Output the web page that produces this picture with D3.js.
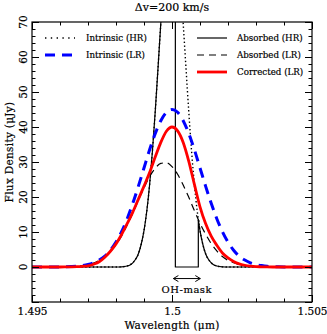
<!DOCTYPE html>
<meta charset="utf-8">
<head>
	<script src="https://cdn.jsdelivr.net/npm/d3@7"></script>
	<style>
		body { margin: 0; background: #fff; }
		text { font-family: "DejaVu Serif", serif; fill: #000; stroke: #000; stroke-width: 0.2px; }
	</style>
</head>
<body>
<div id="svg-container"></div>

<script>

const margin = {top: 22, right: 15, bottom: 32, left: 32},
	width = 327 - margin.left - margin.right,
	height = 334 - margin.top - margin.bottom

////////////////////////////////////
// DATA (wavelength in um, flux in uJy)
////////////////////////////////////

const title = '\u0394v=200 km/s'

// high resolution intrinsic line
const hrWave = [1.495, 1.4980, 1.4982, 1.4984, 1.4985, 1.4986, 1.4987, 1.4988, 1.4989, 1.4990,
	1.4991, 1.4992, 1.4993, 1.4994, 1.4995, 1.4996, 1.4997, 1.4998, 1.4999, 1.5000,
	1.5001, 1.5002, 1.5003, 1.5004, 1.5005, 1.5006, 1.5007, 1.5008, 1.5009, 1.5010,
	1.5011, 1.5012, 1.5013, 1.5014, 1.5015, 1.5016, 1.5018, 1.5020, 1.505]
const hrIntrinsic = [0, 0, 0.05, 0.3, 0.6, 1.2, 2.2, 3.8, 6.5, 10.4,
	16.0, 23.5, 33.0, 44.3, 56.8, 69.6, 81.6, 91.3, 97.8, 100,
	97.8, 91.3, 81.6, 69.6, 56.8, 44.3, 33.0, 23.5, 16.0, 10.4,
	6.5, 3.8, 2.2, 1.2, 0.6, 0.3, 0.05, 0, 0]

// high resolution line after the OH mask (repeated wavelength = vertical edge)
const hrAbsWave = [1.495, 1.4980, 1.4982, 1.4984, 1.4985, 1.4986, 1.4987, 1.4988, 1.4989, 1.4990,
	1.4991, 1.4992, 1.4993, 1.4994, 1.4995, 1.4996, 1.4997, 1.4998, 1.4999, 1.5000,
	1.5001, 1.50012, 1.50012, 1.50094, 1.50094, 1.5010,
	1.5011, 1.5012, 1.5013, 1.5014, 1.5015, 1.5016, 1.5018, 1.5020, 1.505]
const hrAbsorbed = [0, 0, 0.05, 0.3, 0.6, 1.2, 2.2, 3.8, 6.5, 10.4,
	16.0, 23.5, 33.0, 44.3, 56.8, 69.6, 81.6, 91.3, 97.8, 100,
	97.8, 96.8, 0, 0, 13.5, 10.4,
	6.5, 3.8, 2.2, 1.2, 0.6, 0.3, 0.05, 0, 0]

// low resolution curves
const lrWave = [1.495, 1.4960, 1.4962, 1.4964, 1.4966, 1.4968, 1.4970, 1.4972, 1.4974, 1.4976,
	1.4978, 1.4980, 1.4982, 1.4984, 1.4986, 1.4988, 1.4990, 1.4992, 1.4994, 1.4996,
	1.4998, 1.5000, 1.5002, 1.5004, 1.5006, 1.5008, 1.5010, 1.5012, 1.5014, 1.5016,
	1.5018, 1.5020, 1.5022, 1.5024, 1.5026, 1.5028, 1.5030, 1.5032, 1.5034, 1.5036,
	1.5038, 1.5040, 1.505]
const lrIntrinsic = [0, 0.03, 0.06, 0.11, 0.2, 0.4, 0.7, 1.2, 2.0, 3.1,
	4.8, 7.1, 10.1, 13.8, 18.2, 23.1, 28.3, 33.5, 38.1, 41.8,
	44.2, 45.0, 44.2, 41.8, 38.1, 33.5, 28.3, 23.1, 18.2, 13.8,
	10.1, 7.1, 4.8, 3.1, 2.0, 1.2, 0.7, 0.4, 0.2, 0.11,
	0.06, 0.03, 0]
const lrAbsorbed = [0, 0.03, 0.06, 0.11, 0.2, 0.4, 0.7, 1.1, 1.9, 2.9,
	4.4, 6.4, 8.9, 12.0, 15.4, 19.1, 22.6, 25.8, 28.2, 29.6,
	29.8, 28.7, 26.5, 23.4, 19.9, 16.1, 12.5, 9.4, 6.7, 4.6,
	3.0, 1.9, 1.2, 0.7, 0.4, 0.2, 0.13, 0.08, 0.04, 0.02,
	0.01, 0.01, 0]
const lrCorrected = [0, 0, 0.02, 0.05, 0.1, 0.2, 0.35, 0.8, 1.5, 2.8,
	4.5, 6.6, 9.3, 12.4, 15.7, 19.4, 23.1, 27.0, 31.4, 35.6,
	38.8, 40.0, 38.9, 35.6, 30.2, 23.6, 17.2, 12.4, 8.8, 6.2,
	4.0, 2.6, 1.6, 0.9, 0.5, 0.25, 0.1, 0.06, 0.02, 0,
	0, 0, 0]

// OH mask range
const maskRange = [1.50012, 1.50094]

const xDomain = [1.495, 1.505],
	yDomain = [-10, 70]
const xMajorTicks = [1.495, 1.5, 1.505],
	xTickLabels = ['1.495', '1.5', '1.505']
const yMajorTicks = [-10, 0, 10, 20, 30, 40, 50, 60, 70],
	yTickLabels = ['', '0', '10', '20', '30', '40', '50', '60', '70']

const series = [
	{name: 'Intrinsic (HR)', wave: hrWave, flux: hrIntrinsic, color: '#000', w: 1.4, dash: '1.4,2.4', col: 0, row: 0},
	{name: 'Intrinsic (LR)', wave: lrWave, flux: lrIntrinsic, color: '#0000ff', w: 3, dash: '10,7', col: 0, row: 1},
	{name: 'Absorbed (HR)', wave: hrAbsWave, flux: hrAbsorbed, color: '#000', w: 1.2, dash: null, col: 1, row: 0},
	{name: 'Absorbed (LR)', wave: lrWave, flux: lrAbsorbed, color: '#000', w: 1.2, dash: '7,5', col: 1, row: 1},
	{name: 'Corrected (LR)', wave: lrWave, flux: lrCorrected, color: '#ff0000', w: 2.8, dash: null, col: 1, row: 2}
]
// drawing order (bottom to top)
const drawOrder = ['Intrinsic (HR)', 'Absorbed (HR)', 'Absorbed (LR)', 'Intrinsic (LR)', 'Corrected (LR)']

////////////////////////////////////
// SETUP
////////////////////////////////////

const svg = d3.select('#svg-container').append('svg')
	.attr('width', 327)
	.attr('height', 334)

const g = svg.append('g')
	.attr('transform', `translate(${margin.left},${margin.top})`)

const xScale = d3.scaleLinear().domain(xDomain).range([0, width])
const yScale = d3.scaleLinear().domain(yDomain).range([height, 0])

svg.append('defs').append('clipPath')
	.attr('id', 'plotClip')
	.append('rect')
	.attr('width', width)
	.attr('height', height)

////////////////////////////////////
// CURVES
////////////////////////////////////

const line = d3.line()
	.x(d => xScale(d[0]))
	.y(d => yScale(d[1]))
	.curve(d3.curveMonotoneX)

// split where the wavelength repeats, join the pieces with straight edges
const pathFor = s => {
	const pts = s.wave.map((w, i) => [w, s.flux[i]])
	const runs = []
	let run = [pts[0]]
	for (let i = 1; i < pts.length; i++) {
		if (pts[i][0] === pts[i - 1][0]) { runs.push(run); run = [pts[i]] }
		else run.push(pts[i])
	}
	runs.push(run)
	return runs.map((r, i) => {
		const p = r.length > 1 ? line(r) : `M${xScale(r[0][0])},${yScale(r[0][1])}`
		return i === 0 ? p : 'L' + p.slice(1)
	}).join('')
}

const curves = g.append('g').attr('clip-path', 'url(#plotClip)')

drawOrder.forEach(name => {
	const s = series.find(d => d.name === name)
	curves.append('path')
		.attr('d', pathFor(s))
		.attr('fill', 'none')
		.attr('stroke', s.color)
		.attr('stroke-width', s.w)
		.attr('stroke-dasharray', s.dash)
		.attr('stroke-linejoin', 'round')
})

////////////////////////////////////
// AXES (ticks inside on all four sides)
////////////////////////////////////

const xMinor = d3.range(0, 11).map(i => xDomain[0] + i * 0.001)
const yMinor = d3.range(-10, 71, 2)

const addAxis = (axis, transform, cls) => {
	const a = g.append('g')
		.attr('class', cls)
		.attr('transform', transform)
		.call(axis)
	a.selectAll('.domain').remove()
	a.selectAll('line').attr('stroke', '#000').attr('stroke-width', 1)
	return a
}

// bottom
addAxis(d3.axisBottom(xScale).tickValues(xMinor).tickSize(-3.5).tickFormat(''), `translate(0,${height})`, 'x minor')
const xAxis = addAxis(d3.axisBottom(xScale).tickValues(xMajorTicks).tickSize(-7).tickPadding(6)
	.tickFormat((d, i) => xTickLabels[i]), `translate(0,${height})`, 'x major')
xAxis.selectAll('text')
	.attr('font-family', '"DejaVu Serif", serif')
	.attr('font-size', 10.5)
	.attr('fill', '#000')

// top
addAxis(d3.axisTop(xScale).tickValues(xMinor).tickSize(-3.5).tickFormat(''), 'translate(0,0)', 'x2 minor')
addAxis(d3.axisTop(xScale).tickValues(xMajorTicks).tickSize(-7).tickFormat(''), 'translate(0,0)', 'x2 major')

// left
addAxis(d3.axisLeft(yScale).tickValues(yMinor).tickSize(-3.5).tickFormat(''), 'translate(0,0)', 'y minor')
addAxis(d3.axisLeft(yScale).tickValues(yMajorTicks).tickSize(-7).tickFormat(''), 'translate(0,0)', 'y major')

// right
addAxis(d3.axisRight(yScale).tickValues(yMinor).tickSize(-3.5).tickFormat(''), `translate(${width},0)`, 'y2 minor')
addAxis(d3.axisRight(yScale).tickValues(yMajorTicks).tickSize(-7).tickFormat(''), `translate(${width},0)`, 'y2 major')

// rotated y tick labels
g.selectAll('.ylab')
	.data(yMajorTicks.filter((d, i) => yTickLabels[i] !== ''))
	.enter().append('text')
	.attr('class', 'ylab')
	.attr('transform', d => `translate(-5,${yScale(d)}) rotate(-90)`)
	.attr('text-anchor', 'middle')
	.attr('font-size', 10.5)
	.text(d => yTickLabels[yMajorTicks.indexOf(d)])

// frame
g.append('rect')
	.attr('width', width)
	.attr('height', height)
	.attr('fill', 'none')
	.attr('stroke', '#000')
	.attr('stroke-width', 1.2)

////////////////////////////////////
// LABELS
////////////////////////////////////

svg.append('text')
	.attr('x', margin.left + width / 2)
	.attr('y', 10.5)
	.attr('text-anchor', 'middle')
	.attr('font-size', 11)
	.text(title)

svg.append('text')
	.attr('x', margin.left + width / 2)
	.attr('y', 329)
	.attr('text-anchor', 'middle')
	.attr('font-size', 10.5)
	.attr('letter-spacing', 0.3)
	.text('Wavelength (\u03bcm)')

svg.append('text')
	.attr('transform', `translate(13,${margin.top + height / 2 - 10}) rotate(-90)`)
	.attr('text-anchor', 'middle')
	.attr('font-size', 10.5)
	.attr('letter-spacing', 0.3)
	.text('Flux Density (\u03bcJy)')

// OH-mask arrow
const arrowY = yScale(-3.3),
	ax0 = xScale(maskRange[0]) - 2,
	ax1 = xScale(maskRange[1]) + 2
const arrow = g.append('g').attr('stroke', '#000').attr('stroke-width', 1).attr('fill', 'none')
arrow.append('line').attr('x1', ax0).attr('x2', ax1).attr('y1', arrowY).attr('y2', arrowY)
arrow.append('path').attr('d', `M${ax0 + 5},${arrowY - 3}L${ax0},${arrowY}L${ax0 + 5},${arrowY + 3}`)
arrow.append('path').attr('d', `M${ax1 - 5},${arrowY - 3}L${ax1},${arrowY}L${ax1 - 5},${arrowY + 3}`)

g.append('text')
	.attr('x', (ax0 + ax1) / 2)
	.attr('y', yScale(-7.5))
	.attr('text-anchor', 'middle')
	.attr('font-size', 10)
	.attr('letter-spacing', 0.5)
	.text('OH-mask')

////////////////////////////////////
// LEGEND
////////////////////////////////////

const legCols = [{x0: 13, x1: 43, tx: 54}, {x0: 165, x1: 195, tx: 205}]
const legY = r => 16 + r * 17

const legend = g.selectAll('.legend')
	.data(series)
	.enter().append('g')
	.attr('class', 'legend')

legend.append('line')
	.attr('x1', d => legCols[d.col].x0)
	.attr('x2', d => legCols[d.col].x1)
	.attr('y1', d => legY(d.row))
	.attr('y2', d => legY(d.row))
	.attr('stroke', d => d.color)
	.attr('stroke-width', d => d.w)
	.attr('stroke-dasharray', d => d.name === 'Intrinsic (HR)' ? '1.4,4.4' : d.dash)

legend.append('text')
	.attr('x', d => legCols[d.col].tx)
	.attr('y', d => legY(d.row))
	.attr('dy', '0.35em')
	.attr('font-size', 8.7)
	.text(d => d.name)

</script>
</body>
